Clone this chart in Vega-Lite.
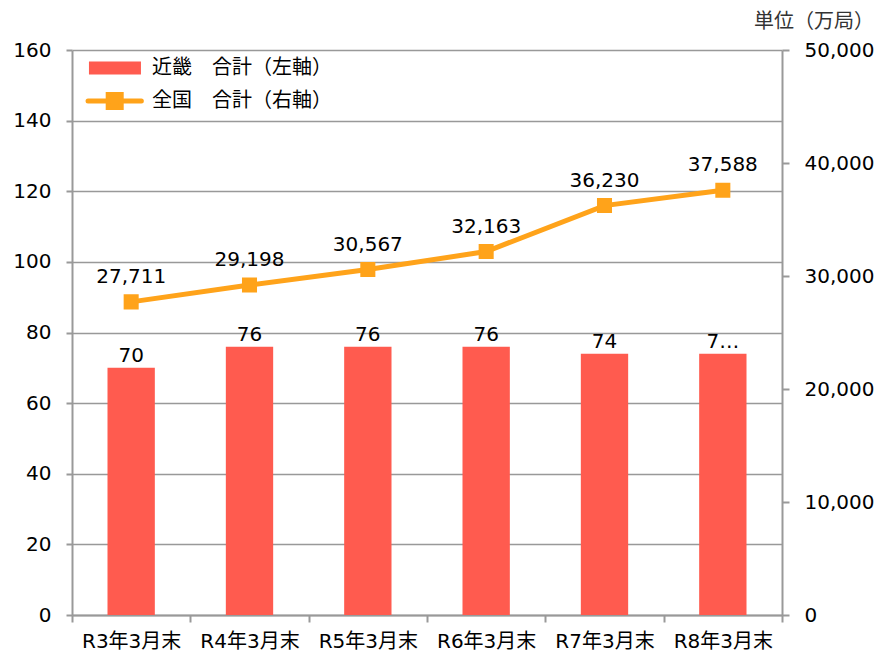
{
  "$schema": "https://vega.github.io/schema/vega-lite/v6.json",
  "width": 710,
  "height": 565,
  "autosize": "none",
  "padding": {"left": 72, "top": 50, "right": 103, "bottom": 48},
  "background": "#ffffff",
  "config": {
    "font": "DejaVu Sans, Noto Sans CJK JP",
    "view": {"stroke": null},
    "axis": {
      "labelFont": "DejaVu Sans, Noto Sans CJK JP",
      "labelFontSize": 20,
      "labelColor": "#000000",
      "domainColor": "#999999",
      "domainWidth": 2,
      "tickColor": "#999999",
      "tickWidth": 2,
      "gridColor": "#999999",
      "gridWidth": 1.5,
      "title": null
    },
    "legend": {
      "labelFont": "DejaVu Sans, Noto Sans CJK JP",
      "labelFontSize": 20,
      "labelColor": "#000000",
      "labelLimit": 400
    }
  },
  "title": {
    "text": "単位（万局）",
    "anchor": "end",
    "frame": "bounds",
    "orient": "top",
    "offset": 8,
    "fontSize": 20,
    "fontWeight": "normal",
    "font": "DejaVu Sans, Noto Sans CJK JP",
    "color": "#333333"
  },
  "data": {
    "values": [
      {"period": "R3年3月末", "kinki": 70, "kinki_label": "70", "zenkoku": 27711},
      {"period": "R4年3月末", "kinki": 76, "kinki_label": "76", "zenkoku": 29198},
      {"period": "R5年3月末", "kinki": 76, "kinki_label": "76", "zenkoku": 30567},
      {"period": "R6年3月末", "kinki": 76, "kinki_label": "76", "zenkoku": 32163},
      {"period": "R7年3月末", "kinki": 74, "kinki_label": "74", "zenkoku": 36230},
      {"period": "R8年3月末", "kinki": 74, "kinki_label": "7…", "zenkoku": 37588}
    ]
  },
  "encoding": {
    "x": {
      "field": "period",
      "type": "nominal",
      "sort": null,
      "scale": {"paddingInner": 0, "paddingOuter": 0},
      "axis": {
        "labelAngle": 0,
        "tickBand": "extent",
        "tickSize": 7,
        "labelPadding": 9,
        "grid": false
      }
    }
  },
  "layer": [
    {
      "encoding": {
        "y": {
          "field": "kinki",
          "type": "quantitative",
          "scale": {"domain": [0, 160], "nice": false},
          "axis": {
            "orient": "left",
            "values": [0, 20, 40, 60, 80, 100, 120, 140, 160],
            "grid": true,
            "tickSize": 6,
            "labelPadding": 15
          }
        }
      },
      "layer": [
        {
          "mark": {"type": "bar", "width": {"band": 0.4}},
          "encoding": {
            "fill": {
              "datum": "近畿　合計（左軸）",
              "scale": {"range": ["#FF5B4F"]},
              "legend": {
                "orient": "none",
                "legendX": 8,
                "legendY": 8,
                "title": null,
                "symbolType": "M-0.16,-1H7.84V1H-0.16Z",
                "symbolSize": 169,
                "symbolStrokeWidth": 0,
                "labelOffset": 52
              }
            }
          }
        },
        {
          "mark": {"type": "text", "baseline": "alphabetic", "dy": -6, "fontSize": 20, "color": "#000000", "font": "DejaVu Sans, Noto Sans CJK JP"},
          "encoding": {"text": {"field": "kinki_label"}}
        }
      ]
    },
    {
      "encoding": {
        "y": {
          "field": "zenkoku",
          "type": "quantitative",
          "scale": {"domain": [0, 50000], "nice": false},
          "axis": {
            "orient": "right",
            "values": [0, 10000, 20000, 30000, 40000, 50000],
            "format": ",.0f",
            "grid": false,
            "tickSize": 7,
            "labelPadding": 15
          }
        }
      },
      "layer": [
        {
          "mark": {
            "type": "line",
            "strokeWidth": 5,
            "color": "#FFA31A",
            "point": {"filled": true, "shape": "square", "size": 170, "color": "#FFA31A"}
          },
          "encoding": {
            "stroke": {
              "datum": "全国　合計（右軸）",
              "scale": {"range": ["#FFA31A"]},
              "legend": {
                "orient": "none",
                "legendX": 8,
                "legendY": 41,
                "title": null,
                "symbolType": "M-0.3,0H7.9M2.8,-1H4.8V1H2.8Z",
                "symbolSize": 169,
                "symbolStrokeWidth": 5,
                "symbolFillColor": "#FFA31A",
                "labelOffset": 52,
                "encode": {"symbols": {"update": {"strokeCap": {"value": "round"}}}}
              }
            }
          }
        },
        {
          "mark": {"type": "text", "baseline": "alphabetic", "dy": -19, "fontSize": 20, "color": "#000000", "font": "DejaVu Sans, Noto Sans CJK JP"},
          "encoding": {"text": {"field": "zenkoku", "format": ","}}
        }
      ]
    }
  ],
  "resolve": {"scale": {"y": "independent"}}
}
